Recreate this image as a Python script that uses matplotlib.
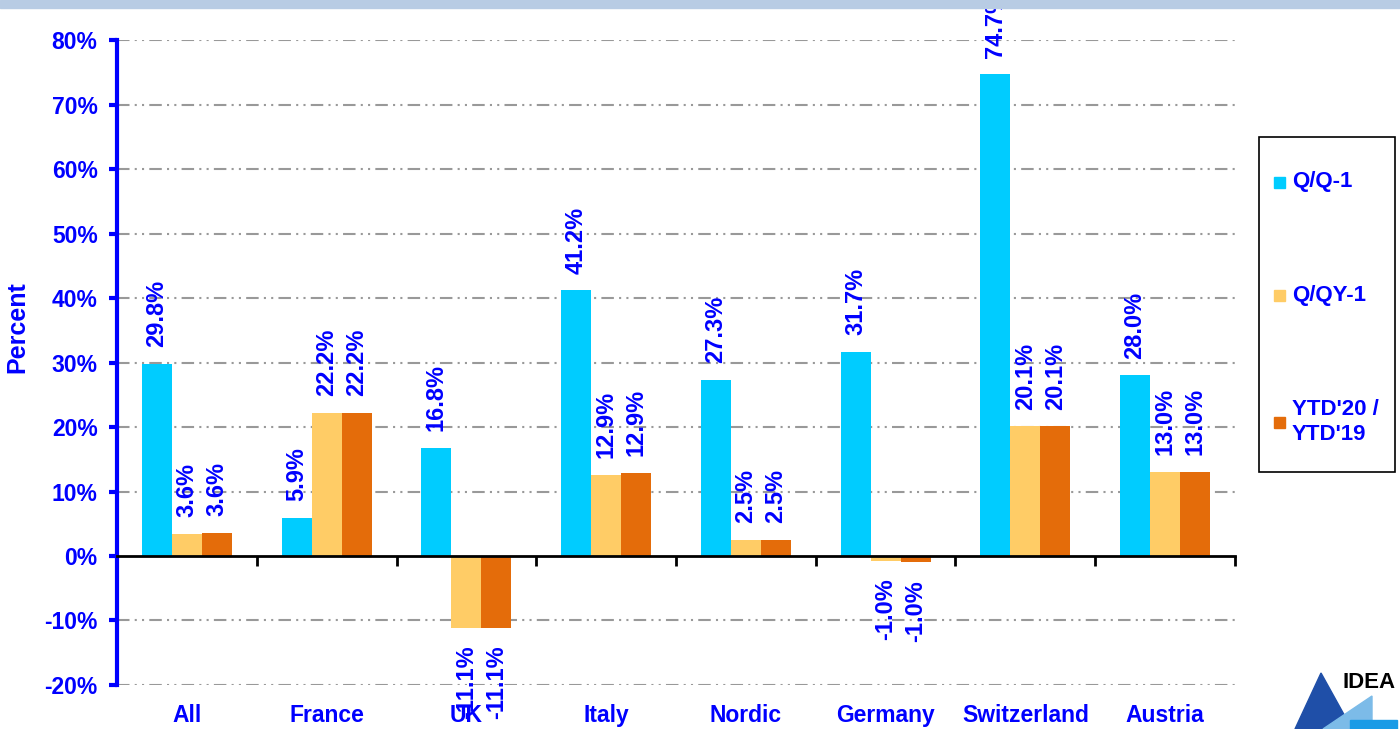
import numpy as np
import matplotlib.pyplot as plt
from matplotlib.patches import Rectangle, Polygon

plt.rcParams['font.family'] = ['Liberation Sans', 'DejaVu Sans']
plt.rcParams['font.weight'] = 'bold'

categories = ['All', 'France', 'UK', 'Italy', 'Nordic', 'Germany', 'Switzerland', 'Austria']
series = ['Q/Q-1', 'Q/QY-1', "YTD'20 /\nYTD'19"]
q_q1 = [29.8, 5.9, 16.8, 41.2, 27.3, 31.7, 74.7, 28.0]
q_qy1 = [3.4, 22.2, -11.1, 12.6, 2.5, -0.7, 20.1, 13.0]
ytd = [3.6, 22.2, -11.1, 12.9, 2.5, -1.0, 20.1, 13.0]
q_q1_labels = ['29.8%', '5.9%', '16.8%', '41.2%', '27.3%', '31.7%', '74.7%', '28.0%']
q_qy1_labels = ['3.6%', '22.2%', '-11.1%', '12.9%', '2.5%', '-1.0%', '20.1%', '13.0%']
ytd_labels = ['3.6%', '22.2%', '-11.1%', '12.9%', '2.5%', '-1.0%', '20.1%', '13.0%']
yticks = [-20, -10, 0, 10, 20, 30, 40, 50, 60, 70, 80]

colors = ['#00ccff', '#ffcc66', '#e46c0a']
blue = '#0000ff'

W, H = 1400, 729


def fx(px):
    return px / W


def fy(py):
    return 1 - py / H


fig = plt.figure(figsize=(14, 7.29), dpi=100)
ax = fig.add_axes([0.0836, 0.0604, 0.7985, 0.8846])

x = np.arange(len(categories))
w = 0.215
data = [q_q1, q_qy1, ytd]
labels = [q_q1_labels, q_qy1_labels, ytd_labels]
for k in range(3):
    xs = x + (k - 1) * w
    ax.bar(xs, data[k], w, color=colors[k], zorder=3)
    for xi, v, lab in zip(xs, data[k], labels[k]):
        if v >= 0:
            ax.annotate(lab, (xi, v), xytext=(0, 12), textcoords='offset points',
                        rotation=90, ha='center', va='bottom', color=blue,
                        fontsize=17, fontweight='bold', annotation_clip=False)
        else:
            ax.annotate(lab, (xi, v), xytext=(0, -13), textcoords='offset points',
                        rotation=90, ha='center', va='top', color=blue,
                        fontsize=17, fontweight='bold', annotation_clip=False)

ax.set_xlim(-0.5, len(categories) - 0.5)
ax.set_ylim(-20, 80)

# grid lines
for t in yticks:
    if t != 0:
        ax.axhline(t, color='#999999', lw=1.5, ls=(0, (6, 2.5, 1, 2.5, 1, 2.5)), zorder=1)

# y axis
ax.set_yticks(yticks)
ax.set_yticklabels([f'{t}%' for t in yticks], color=blue, fontsize=16.5, fontweight='bold')
ax.tick_params(axis='y', colors=blue, length=6, width=3, pad=8, labelcolor=blue)
ax.spines['left'].set_color(blue)
ax.spines['left'].set_linewidth(3)
ax.spines['right'].set_visible(False)
ax.spines['top'].set_visible(False)
ax.spines['bottom'].set_position(('data', 0))
ax.spines['bottom'].set_color('black')
ax.spines['bottom'].set_linewidth(2)
ax.spines['bottom'].set_zorder(4)
ax.set_xticks(np.arange(len(categories) + 1) - 0.5)
ax.set_xticklabels([])
ax.tick_params(axis='x', length=7, width=2, colors='black')
for xi, c in zip(x, categories):
    ax.text(xi, -0.048, c, transform=ax.get_xaxis_transform(), ha='center', va='center',
            color=blue, fontsize=16.5, fontweight='bold')
fig.text(fx(17), fy(327), 'Percent', rotation=90, color=blue, fontsize=18,
         fontweight='bold', ha='center', va='center')

# legend box
fig.patches.append(Rectangle((fx(1259), fy(472)), 136 / W, 335 / H,
                             transform=fig.transFigure, fill=False, ec='black', lw=1.2))
leg_y = [182, 295, 422]
for c, s, yy in zip(colors, series, leg_y):
    fig.patches.append(Rectangle((fx(1274), fy(yy + 6)), 11 / W, 11 / H,
                                 transform=fig.transFigure, color=c))
    fig.text(fx(1292), fy(yy), s, color=blue, fontsize=16, fontweight='bold',
             va='center', ha='left', linespacing=1.3)

# top band
fig.patches.append(Rectangle((0, fy(8)), 1, 8 / H, transform=fig.transFigure,
                             color='#b8cce4', zorder=10))

# logo
fig.patches.append(Polygon([(fx(1295), 0), (fx(1321), fy(673)), (fx(1352), 0)],
                           closed=True, transform=fig.transFigure, color='#1f4fa8'))
fig.patches.append(Polygon([(fx(1323), 0), (fx(1372), fy(696)), (fx(1372), 0)],
                           closed=True, transform=fig.transFigure, color='#7cbbe8'))
fig.patches.append(Rectangle((fx(1350), 0), 47 / W, 9 / H, transform=fig.transFigure,
                             color='#1a9be6'))
fig.text(fx(1369), fy(683), 'IDEA', color='black', fontsize=16, fontweight='bold',
         ha='center', va='center')

fig.savefig('out.png', dpi=100)
